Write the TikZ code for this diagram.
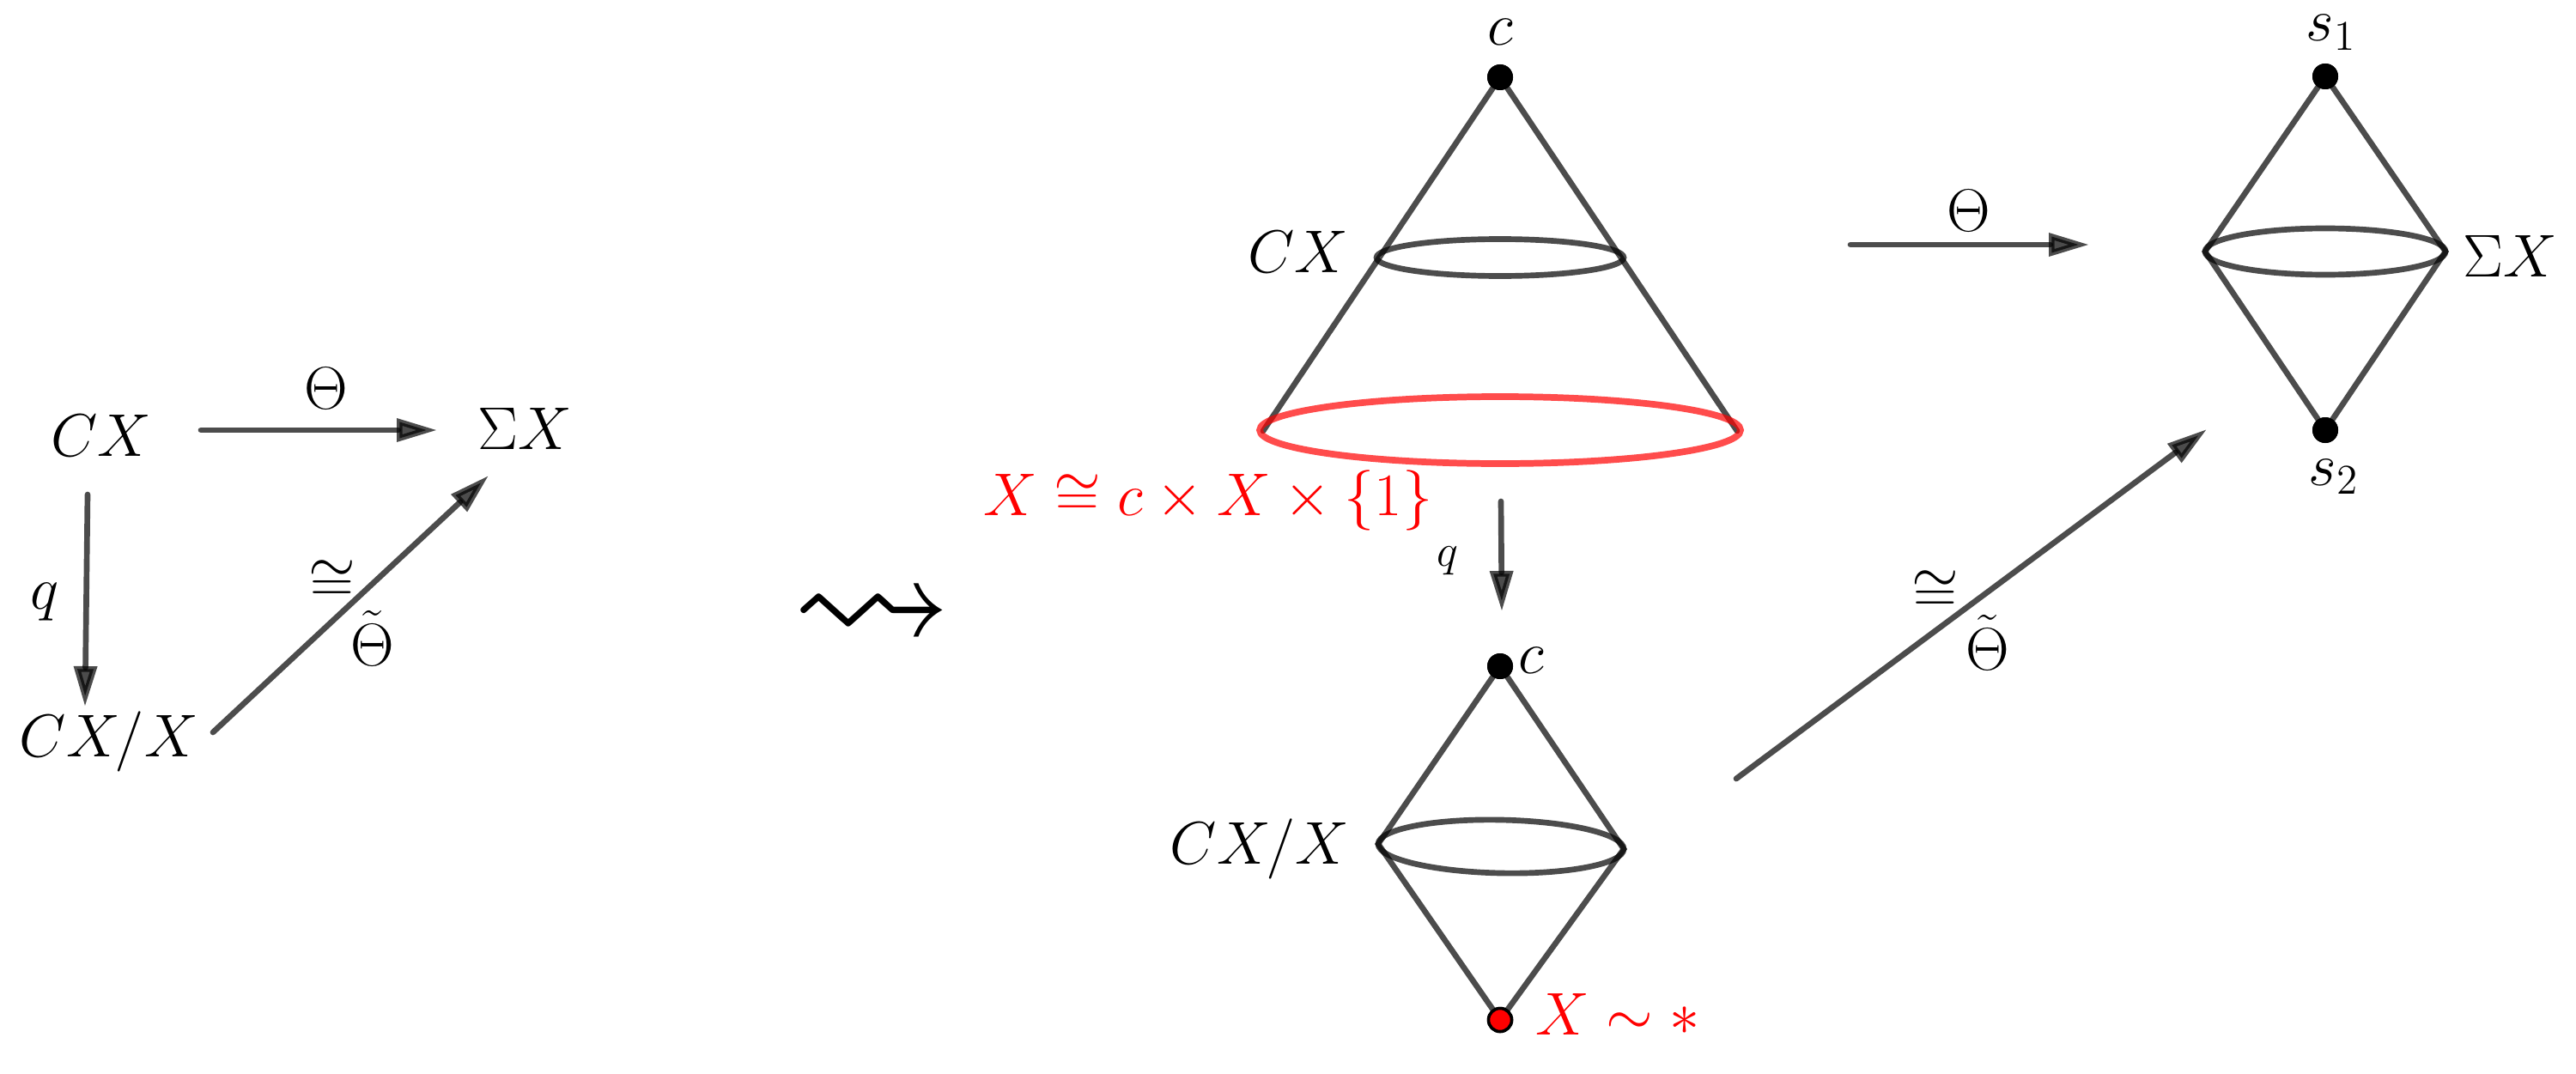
\RequirePackage{fix-cm}
\documentclass[tikz,border=0pt]{standalone}
\usepackage{amssymb}
\usetikzlibrary{arrows.meta}
\tikzset{
  ln/.style={draw=black, opacity=0.7, line width=1.9pt, line cap=round},
  arr/.style={ln, -{Triangle[length=0.47cm,width=0.26cm]}},
  lbl/.style={inner sep=0pt, font=\fontsize{20}{24}\selectfont},
  small/.style={inner sep=0pt, font=\fontsize{15}{18}\selectfont},
  redlbl/.style={lbl, text=red},
  bdot/.style={circle, fill=black, minimum size=0.30cm, inner sep=0pt},
  rdot/.style={circle, fill=red, draw=black, line width=1pt, minimum size=0.27cm, inner sep=0pt},
  ring/.style={ln},
  redring/.style={draw=red, opacity=0.7, line width=2.2pt},
}
\begin{document}
\begin{tikzpicture}
\path[use as bounding box] (0,0) rectangle (30,-12.5);

% ---------------- left diagram ----------------
\node[lbl, anchor=base] (cx) at (1.18,-5.31) {$CX$};
\node[lbl, anchor=base] (sx) at (6.11,-5.23) {$\Sigma X$};
\node[lbl, anchor=base] (cxx) at (1.27,-8.81) {$CX/X$};
\coordinate (a1s) at (2.34,-5.01);
\coordinate (a1e) at (5.09,-5.01);
\coordinate (a2s) at (1.02,-5.76);
\coordinate (a2e) at (0.99,-8.23);
\coordinate (a3s) at (2.48,-8.53);
\coordinate (a3e) at (5.69,-5.54);
\draw[arr] (a1s) -- (a1e);
\draw[arr] (a2s) -- (a2e);
\draw[arr] (a3s) -- (a3e);
\node[lbl, anchor=base] (th1) at (3.80,-4.76) {$\Theta$};
\node[lbl, anchor=base] (q1) at (0.52,-7.09) {$q$};
\node[lbl] (cong1) at (3.87,-6.77) {$\cong$};
\node[lbl, anchor=base] (tth1) at (4.34,-7.75) {$\tilde{\Theta}$};

% ---------------- squiggly arrow ----------------
\node[inner sep=0pt, font=\fontsize{10}{12}\selectfont, scale=5.3] (sq) at (10.16,-7.22) {$\rightsquigarrow$};

% ---------------- cone ----------------
\coordinate (bl) at (14.71,-5.02);
\coordinate (br) at (20.23,-5.02);
\node[bdot] (apex) at (17.47,-0.90) {};
\draw[ln] (apex.center) -- (bl);
\draw[ln] (apex.center) -- (br);
\draw[ring] (17.47,-3.00) ellipse [x radius=1.44, y radius=0.215];
\draw[redring] (17.47,-5.01) ellipse [x radius=2.80, y radius=0.39];
\node[bdot] at (apex) {};
\node[lbl, anchor=base] (clab) at (17.47,-0.53) {$c$};
\node[lbl, anchor=base] (cxlab) at (15.12,-3.17) {$CX$};
\node[redlbl, anchor=base east] (xlab) at (16.69,-6.00) {$X\cong c\times X\times\{1\}$};

% q arrow
\coordinate (qs) at (17.48,-5.84);
\coordinate (qe) at (17.49,-7.12);
\draw[arr] (qs) -- (qe);
\node[small, anchor=base] (q2) at (16.86,-6.59) {$q$};

% ---------------- bottom diamond ----------------
\coordinate (dl) at (16.05,-9.83);
\coordinate (dr) at (18.91,-9.89);
\node[bdot] (dtop) at (17.47,-7.76) {};
\node[rdot] (dbot) at (17.47,-11.88) {};
\draw[ln] (dtop.center) -- (dl) -- (dbot.center);
\draw[ln] (dtop.center) -- (dr) -- (dbot.center);
\draw[ring, rotate around={-1.2:(17.48,-9.86)}] (17.48,-9.86) ellipse [x radius=1.43, y radius=0.31];
\node[bdot] at (dtop) {};
\node[rdot] at (dbot) {};
\node[lbl, anchor=base west] (c2) at (17.68,-7.84) {$c$};
\node[lbl, anchor=base] (cxx2) at (14.67,-10.06) {$CX/X$};
\node[redlbl, anchor=base west] (xst) at (17.88,-12.05) {$X\sim *$};

% big diagonal arrow
\coordinate (bs) at (20.22,-9.07);
\coordinate (be) at (25.70,-5.00);
\draw[arr] (bs) -- (be);
\node[lbl] (cong2) at (22.54,-6.89) {$\cong$};
\node[lbl, anchor=base] (tth2) at (23.15,-7.80) {$\tilde{\Theta}$};

% top Theta arrow
\coordinate (ts) at (21.55,-2.85);
\coordinate (te) at (24.33,-2.85);
\draw[arr] (ts) -- (te);
\node[lbl, anchor=base] (th2) at (22.93,-2.70) {$\Theta$};

% ---------------- suspension ----------------
\coordinate (sl) at (25.68,-2.93);
\coordinate (sr) at (28.48,-2.93);
\node[bdot] (s1) at (27.08,-0.89) {};
\node[bdot] (s2) at (27.08,-5.01) {};
\draw[ln] (s1.center) -- (sl) -- (s2.center);
\draw[ln] (s1.center) -- (sr) -- (s2.center);
\draw[ring] (27.08,-2.93) ellipse [x radius=1.40, y radius=0.27];
\node[bdot] at (s1) {};
\node[bdot] at (s2) {};
\node[lbl, anchor=base] (s1lab) at (27.15,-0.48) {$s_1$};
\node[lbl, anchor=base] (s2lab) at (27.18,-5.65) {$s_2$};
\node[lbl, anchor=base] (sxlab) at (29.23,-3.22) {$\Sigma X$};
\end{tikzpicture}
\end{document}
